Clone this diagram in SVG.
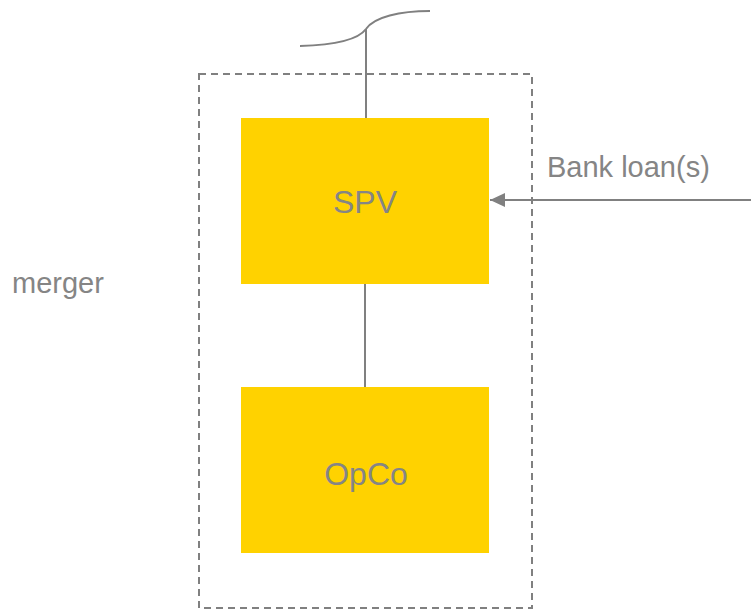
<svg xmlns="http://www.w3.org/2000/svg" width="751" height="609" viewBox="0 0 751 609">
  <style>
    .txt { font-family: "Liberation Sans", Arial, sans-serif; fill: #858585; }
    .box { fill: #FFD200; }
    .line { stroke: #808080; stroke-width: 2; fill: none; }
  </style>
  <defs>
    <marker id="arrow" markerUnits="userSpaceOnUse" markerWidth="16" markerHeight="16" refX="15" refY="8" orient="auto">
      <path d="M0,1 L15,8 L0,15 Z" fill="#808080"/>
    </marker>
  </defs>
  <rect width="751" height="609" fill="#ffffff"/>
  <g id="merger-boundary">
    <rect x="199" y="74" width="333" height="534" fill="none" stroke="#808080" stroke-width="2" stroke-dasharray="7,5"/>
    <text class="txt" x="12" y="293" font-size="29">merger</text>
  </g>
  <g id="connectors">
    <path class="line" d="M300,46 C335,45 358,40 366,29 C374,17 400,11 430,11"/>
    <line class="line" x1="366" y1="29" x2="366" y2="118"/>
    <line class="line" x1="365" y1="284" x2="365" y2="387"/>
    <line class="line" x1="751" y1="200" x2="490" y2="200" stroke-width="2.5" marker-end="url(#arrow)"/>
    <text class="txt" x="547" y="177" font-size="29">Bank loan(s)</text>
  </g>
  <g id="spv">
    <rect class="box" x="241" y="118" width="248" height="166"/>
    <text class="txt" x="365" y="213" font-size="32" text-anchor="middle">SPV</text>
  </g>
  <g id="opco">
    <rect class="box" x="241" y="387" width="248" height="166"/>
    <text class="txt" x="366" y="485" font-size="32" text-anchor="middle">OpCo</text>
  </g>
</svg>
